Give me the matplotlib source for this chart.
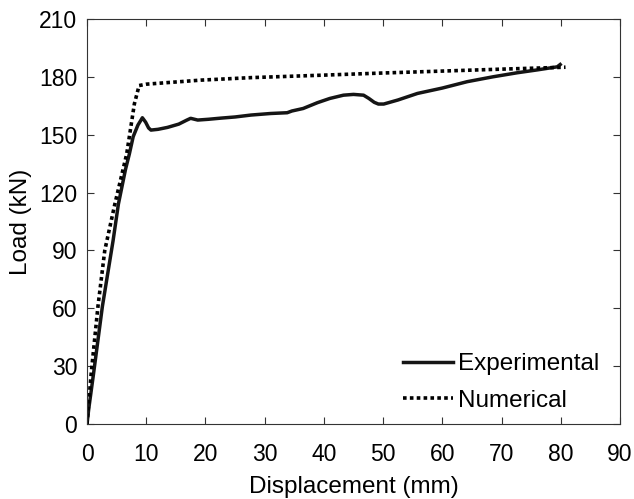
import matplotlib
matplotlib.use("Agg")
import matplotlib.pyplot as plt

# Experimental load-displacement curve
exp_disp = [0, 0.3, 1.1, 2.6, 4.4, 5.3, 6.5, 7.15, 7.8, 8.6, 9.1, 9.35,
            9.9, 10.4, 10.8, 12.0, 13.6, 15.5, 16.8, 17.5, 18.7, 20.5, 22.6, 25.0,
            27.7, 31.0, 33.8, 34.6, 36.5, 38.9, 41.0, 43.3, 45.0, 46.7, 47.6, 48.5,
            49.2, 50.1, 52.5, 55.8, 60.0, 64.2, 68.5, 72.6, 76.0, 79.4, 79.9]
exp_load = [0, 8, 26, 61, 95, 114, 132, 140, 149, 155, 157.5, 158.8,
            156.5, 153.5, 152.4, 152.8, 153.8, 155.5, 157.5, 158.5, 157.6, 158, 158.6, 159.2,
            160.2, 161, 161.4, 162.3, 163.6, 166.6, 168.8, 170.5, 170.9, 170.5, 168.8, 166.8,
            165.9, 165.9, 168, 171.4, 174.2, 177.5, 180, 182.1, 183.6, 185.2, 186.4]

# Numerical curve
num_disp = [0, 0.7, 1.85, 3.0, 4.7, 6.7, 8.0, 8.8, 10.0, 19.2, 27.7, 40.0, 50.0, 60.0, 70.0, 80.8]
num_load = [0, 26, 61, 90, 114, 140, 166, 175.5, 176.2, 178.3, 179.6, 180.9, 182, 183, 184, 185.0]

x_ticks = list(range(0, 91, 10))
y_ticks = list(range(0, 211, 30))

plt.rcParams['font.family'] = ['Liberation Sans', 'DejaVu Sans']

fig = plt.figure(figsize=(6.34, 4.99), dpi=100)
ax = fig.add_axes([87 / 634, 75 / 499, 533 / 634, 405 / 499])

ax.plot(exp_disp, exp_load, color='#151515', lw=2.5, label='Experimental')
ax.plot(num_disp, num_load, color='black', lw=2.6, linestyle=(0, (1, 0.9)), label='Numerical')

ax.set_xlim(0, 90)
ax.set_ylim(0, 210)
ax.set_xticks(x_ticks)
ax.set_yticks(y_ticks)
ax.tick_params(direction='in', top=True, right=True, length=5, width=0.8,
               labelsize=16.5, color='#333333')
ax.tick_params(axis='x', pad=13.5)
ax.tick_params(axis='y', pad=7)
for s in ax.spines.values():
    s.set_color('#333333')
    s.set_linewidth(0.8)

ax.set_xlabel('Displacement (mm)', fontsize=17.5, labelpad=7.5)
ax.set_ylabel('Load (kN)', fontsize=17.5, labelpad=5)

ax.legend(loc='lower right', bbox_to_anchor=(1.0 - 9 / 533, 0.0), frameon=False, fontsize=17.5,
          handlelength=2.05, handletextpad=0.2, labelspacing=0.6, borderaxespad=0.1)

fig.savefig('out.png', dpi=100)
